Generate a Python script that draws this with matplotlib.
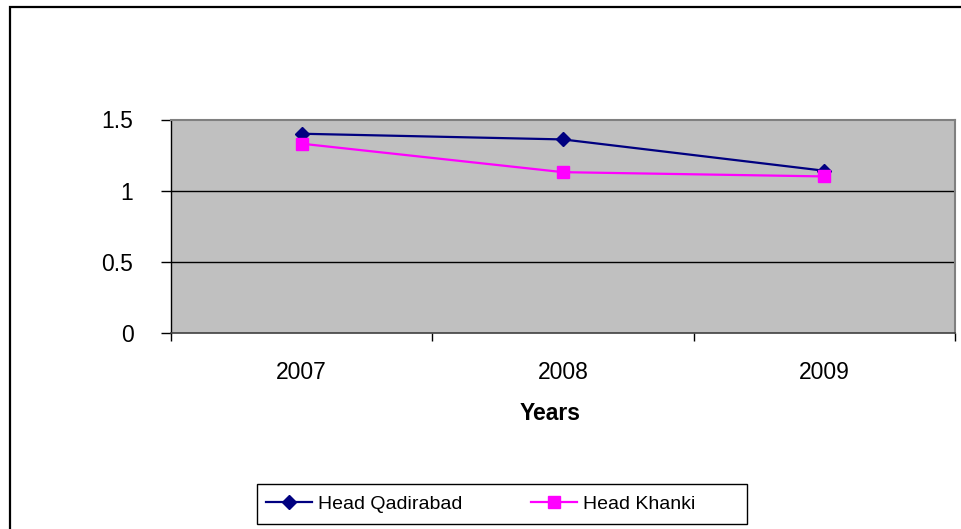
import matplotlib
matplotlib.use("Agg")
import matplotlib.pyplot as plt
from matplotlib import font_manager
from matplotlib.patches import Rectangle
from matplotlib.lines import Line2D

years = ["2007", "2008", "2009"]
qadirabad = [1.40, 1.36, 1.14]
khanki = [1.33, 1.13, 1.10]
yticks = [0, 0.5, 1, 1.5]
ytick_labels = ["0", "0.5", "1", "1.5"]

plt.rcParams['font.family'] = ['Liberation Sans', 'DejaVu Sans']

# legend text in the reference is condensed; use narrow face if available
narrow_names = {f.name for f in font_manager.fontManager.ttflist}
if 'Liberation Sans Narrow' in narrow_names:
    leg_family, leg_size = ['Liberation Sans Narrow', 'DejaVu Sans'], 16.5
else:
    leg_family, leg_size = ['Liberation Sans', 'DejaVu Sans'], 14

W, H = 962, 529
fig = plt.figure(figsize=(W / 100, H / 100), dpi=100)

# outer border
fig.patches.append(Rectangle((10 / W, -0.5), 3, 1.5 - 7 / H, transform=fig.transFigure,
                             fill=False, edgecolor='black', linewidth=1.6))

ax = fig.add_axes([171 / W, 1 - 333 / H, (955 - 171) / W, (333 - 119.5) / H])
ax.set_facecolor('#C0C0C0')

x = [i + 0.5 for i in range(len(years))]
ax.plot(x, qadirabad, color='#000080', linewidth=1.6, marker='D', markersize=7,
        markerfacecolor='#000080', markeredgecolor='#000080', label='Head Qadirabad', zorder=3)
ax.plot(x, khanki, color='#FF00FF', linewidth=1.6, marker='s', markersize=8,
        markerfacecolor='#FF00FF', markeredgecolor='#FF00FF', label='Head Khanki', zorder=3)

ax.set_xlim(0, 3)
ax.set_ylim(0, 1.5)
ax.set_yticks(yticks)
ax.set_yticklabels(ytick_labels)
ax.set_xticks([0, 1, 2, 3])
ax.set_xticklabels([])
ax.set_xticks(x, minor=True)
ax.set_xticklabels(years, minor=True)
ax.tick_params(axis='x', which='major', direction='out', length=6, width=1, color='black')
ax.tick_params(axis='x', which='minor', length=0, pad=20, labelsize=16.5)
ax.tick_params(axis='y', direction='out', length=7, width=1, color='black', pad=20, labelsize=16.5)

for yv in yticks[1:3]:
    ax.axhline(yv, color='black', linewidth=1, zorder=1)

ax.spines['left'].set_color('black')
ax.spines['left'].set_linewidth(1)
ax.spines['bottom'].set_color('#404040')
ax.spines['bottom'].set_linewidth(1.2)
ax.spines['top'].set_color('#808080')
ax.spines['top'].set_linewidth(1.5)
ax.spines['right'].set_color('#808080')
ax.spines['right'].set_linewidth(1.5)

fig.text(550.5 / W, 1 - 413 / H, 'Years', ha='center', va='center', fontsize=16.5, fontweight='bold')

# legend box
fig.patches.append(Rectangle((257 / W, 1 - 524 / H), (747 - 257) / W, 40 / H,
                             transform=fig.transFigure, facecolor='white',
                             edgecolor='black', linewidth=1, zorder=2))

handles = [
    Line2D([], [], color='#000080', linewidth=1.6, marker='D', markersize=7),
    Line2D([], [], color='#FF00FF', linewidth=1.6, marker='s', markersize=8),
]
px = leg_size * 100 / 72.0
leg = fig.legend(handles, ['Head Qadirabad', 'Head Khanki'], loc='center left',
                 bbox_to_anchor=(266 / W, 1 - 504 / H), ncol=2,
                 prop={'family': leg_family, 'size': leg_size},
                 frameon=False, handlelength=46 / px, borderpad=0, borderaxespad=0,
                 columnspacing=69 / px, handletextpad=6 / px)
leg.set_zorder(5)

fig.savefig('out.png', dpi=100)
